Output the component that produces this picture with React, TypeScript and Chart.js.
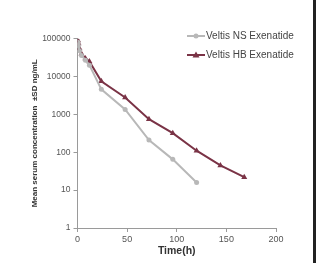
import React, { useEffect, useRef } from "react";
import { Chart, registerables } from "chart.js";

Chart.register(...registerables);

const nsTimes = [0.5, 1, 2, 4, 8, 12, 24, 48, 72, 96, 120];
const nsValues = [80000, 65000, 48000, 36000, 27000, 20000, 4600, 1350, 210, 65, 16];
const hbTimes = [0.5, 1, 2, 4, 8, 12, 24, 48, 72, 96, 120, 144, 168];
const hbValues = [90000, 75000, 55000, 40000, 30000, 25000, 7500, 2800, 750, 320, 110, 45, 22];
const yTicks = [1, 10, 100, 1000, 10000, 100000];
const seriesLabels = ["Veltis NS Exenatide", "Veltis HB Exenatide"];
const xTitle = "Time(h)";
const yTitle = "Mean serum concentration  \u00b1SD ng/mL";

const NS_COLOR = "#b8b8b8";
const HB_COLOR = "#7a3346";
const FONT = "Liberation Sans, Arial, sans-serif";

const legendPlugin = {
  id: "customLegend",
  afterDraw(chart: any) {
    const ctx = chart.ctx;
    const items = [
      { label: chart.data.datasets[0].label, color: NS_COLOR, style: "circle", y: 36 },
      { label: chart.data.datasets[1].label, color: HB_COLOR, style: "triangle", y: 55 },
    ];
    ctx.save();
    for (const it of items) {
      ctx.strokeStyle = it.color;
      ctx.lineWidth = 2;
      ctx.beginPath();
      ctx.moveTo(187, it.y);
      ctx.lineTo(205, it.y);
      ctx.stroke();
      ctx.fillStyle = it.color;
      ctx.beginPath();
      if (it.style === "circle") {
        ctx.arc(196, it.y, 2.5, 0, Math.PI * 2);
      } else {
        ctx.moveTo(196, it.y - 3.5);
        ctx.lineTo(199.5, it.y + 2.5);
        ctx.lineTo(192.5, it.y + 2.5);
        ctx.closePath();
      }
      ctx.fill();
      ctx.fillStyle = "#444";
      ctx.font = "10px " + FONT;
      ctx.textBaseline = "middle";
      ctx.textAlign = "left";
      ctx.fillText(it.label, 206, it.y);
    }
    ctx.restore();
  },
};

export default function App() {
  const ref = useRef<HTMLCanvasElement>(null);
  useEffect(() => {
    document.body.style.margin = "0";
    const chart = new Chart(ref.current!, {
      type: "line",
      data: {
        datasets: [
          {
            label: seriesLabels[0],
            data: nsTimes.map((t, i) => ({ x: t, y: nsValues[i] })),
            borderColor: NS_COLOR,
            backgroundColor: NS_COLOR,
            borderWidth: 2,
            pointStyle: "circle",
            pointRadius: 2.5,
            pointBorderWidth: 0,
            tension: 0,
          },
          {
            label: seriesLabels[1],
            data: hbTimes.map((t, i) => ({ x: t, y: hbValues[i] })),
            borderColor: HB_COLOR,
            backgroundColor: HB_COLOR,
            borderWidth: 2,
            pointStyle: "triangle",
            pointRadius: 3.5,
            pointBorderWidth: 0,
            tension: 0,
          },
        ],
      },
      options: {
        animation: false,
        responsive: false,
        maintainAspectRatio: false,
        layout: { padding: { left: 30, right: 40, top: 38.7, bottom: 5.7 } },
        plugins: { legend: { display: false }, tooltip: { enabled: false } },
        elements: { line: { clip: false } as any },
        scales: {
          x: {
            type: "linear",
            min: 0,
            max: 200,
            afterFit: (s: any) => { s.height = 29.3; },
            ticks: { stepSize: 50, color: "#555", font: { size: 9, family: FONT }, padding: 2, maxRotation: 0 },
            grid: { drawOnChartArea: false, drawTicks: true, tickLength: 4, color: "#9a9a9a" },
            border: { display: true, color: "#9a9a9a" },
            title: { display: true, text: xTitle, color: "#333", font: { size: 10.5, weight: "bold", family: FONT }, padding: 0 },
          },
          y: {
            type: "logarithmic",
            min: 1,
            max: 100000,
            afterFit: (s: any) => { s.width = 47.5; },
            afterBuildTicks: (s: any) => { s.ticks = yTicks.map((v) => ({ value: v })); },
            ticks: { color: "#555", font: { size: 8.5, family: FONT }, padding: 3, callback: (v: any) => String(v) },
            grid: { drawOnChartArea: false, drawTicks: true, tickLength: 4, color: "#9a9a9a" },
            border: { display: true, color: "#9a9a9a" },
            title: { display: true, text: yTitle, color: "#333", font: { size: 8, weight: "bold", family: FONT }, padding: 0 },
          },
        },
      },
      plugins: [legendPlugin],
    });
    return () => chart.destroy();
  }, []);
  return (
    <div style={{ position: "fixed", left: 0, top: 0, width: 316, height: 263, background: "#fff" }}>
      <canvas ref={ref} width={316} height={263} style={{ width: 316, height: 263, display: "block" }} />
      <div style={{ position: "absolute", right: 0, top: 0, width: 3, height: 263, background: "#222" }} />
    </div>
  );
}
